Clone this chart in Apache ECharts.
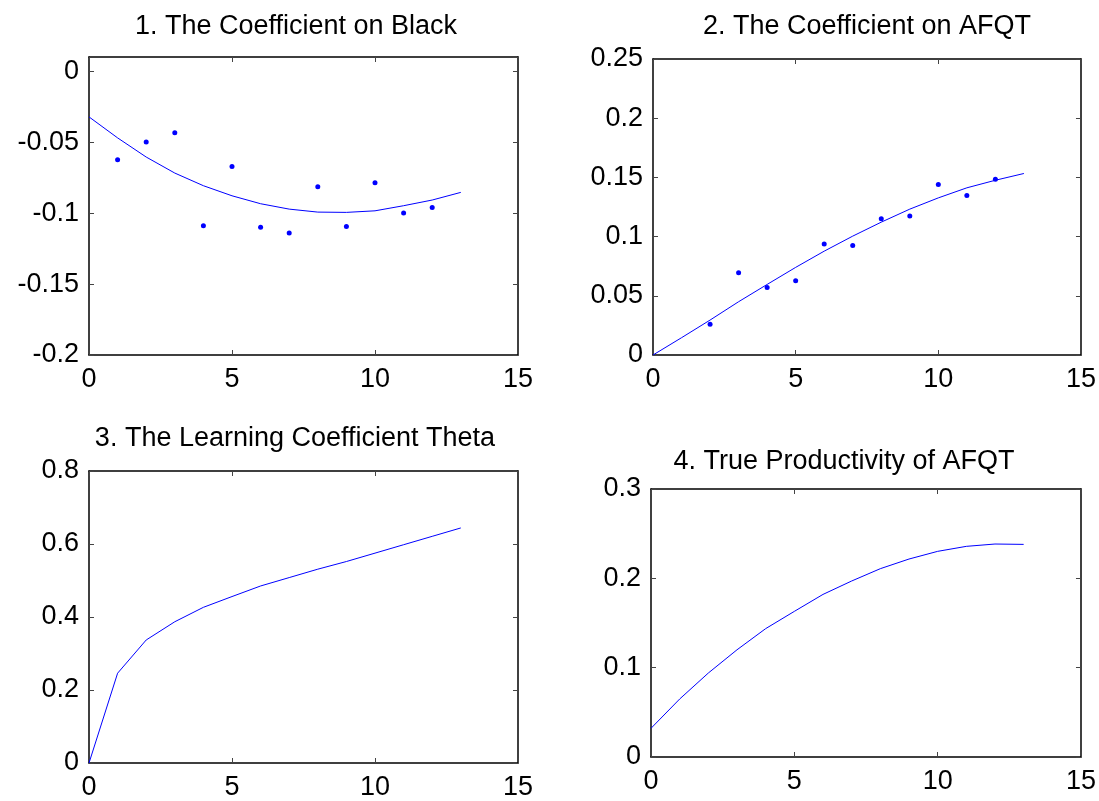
<!DOCTYPE html>
<html>
<head>
<meta charset="utf-8">
<script src="https://cdn.jsdelivr.net/npm/echarts@6/dist/echarts.min.js"></script>
<style>
html,body{margin:0;padding:0;background:#fff;}
#chart{width:1099px;height:801px;}
</style>
</head>
<body>
<div id="chart"></div>
<script>
// ---- Data ----
var xLine = [0,1,2,3,4,5,6,7,8,9,10,11,12,13];
var xDots1 = [1,2,3,4,5,6,7,8,9,10,11,12];
var xDots2 = [2,3,4,5,6,7,8,9,10,11,12];

var blackDots = [-0.0624,-0.0499,-0.0433,-0.109,-0.0671,-0.110,-0.114,-0.0814,-0.1094,-0.0786,-0.1000,-0.096];
var blackFit = [-0.0322,-0.047,-0.0605,-0.0718,-0.0807,-0.0878,-0.0934,-0.0972,-0.0993,-0.0995,-0.0984,-0.0948,-0.0908,-0.0854];

var afqtDots = [0.0259,0.0695,0.0571,0.0627,0.0937,0.0925,0.115,0.1173,0.144,0.1347,0.1485];
var afqtFit = [0,0.0146,0.0295,0.045,0.0596,0.074,0.0877,0.1004,0.1122,0.1232,0.1327,0.1412,0.1476,0.1533];

var theta = [0,0.246,0.337,0.387,0.4265,0.456,0.485,0.508,0.531,0.552,0.575,0.598,0.621,0.644];

var trueAfqt = [0.0321,0.0649,0.094,0.120,0.1437,0.163,0.182,0.197,0.2108,0.2216,0.2302,0.2358,0.2384,0.238];

var titles = ['1. The Coefficient on Black','2. The Coefficient on AFQT','3. The Learning Coefficient Theta','4. True Productivity of AFQT'];
var yRanges = [[-0.2,0.01,0.05],[0,0.25,0.05],[0,0.8,0.2],[0,0.3,0.1]];
var xRange = [0,15,5];

function pairs(xs, ys){ return xs.map(function(x,i){return [x, ys[i]];}); }

// ---- Layout ----
var grids = [
  {left:89, top:57, width:429, height:298},
  {left:653, top:59, width:430, height:296},
  {left:89, top:471, width:429, height:297},
  {left:651, top:489, width:431, height:268}
];
var titlePos = [[296,27],[867,27],[295,439],[844,462]];

var FONT = '"Liberation Sans", Arial, Helvetica, sans-serif';
var FS = 27;
var TFS = 27;
var lineStyleAxis = {color:'#000', width:1.5};
var tickStyle = {color:'#444', width:1};

var xAxes = [], yAxes = [], graphics = [];
grids.forEach(function(g, i){
  var yr = yRanges[i];
  xAxes.push({type:'value', gridIndex:i, position:'bottom', min:xRange[0], max:xRange[1], interval:xRange[2],
    axisLine:{show:true, onZero:false, lineStyle:lineStyleAxis},
    axisTick:{show:true, inside:true, length:5, lineStyle:tickStyle},
    axisLabel:{show:true, color:'#000', fontFamily:FONT, fontSize:FS, margin:11},
    splitLine:{show:false}});
  xAxes.push({type:'value', gridIndex:i, position:'top', min:xRange[0], max:xRange[1], interval:xRange[2],
    axisLine:{show:true, onZero:false, lineStyle:lineStyleAxis},
    axisTick:{show:true, inside:true, length:5, lineStyle:tickStyle},
    axisLabel:{show:false}, splitLine:{show:false}});
  yAxes.push({type:'value', gridIndex:i, position:'left', min:yr[0], max:yr[1], interval:yr[2],
    axisLine:{show:true, onZero:false, lineStyle:lineStyleAxis},
    axisTick:{show:true, inside:true, length:5, lineStyle:tickStyle},
    axisLabel:{show:true, color:'#000', fontFamily:FONT, fontSize:FS, margin:10, showMaxLabel: i===0 ? false : true},
    splitLine:{show:false}});
  yAxes.push({type:'value', gridIndex:i, position:'right', min:yr[0], max:yr[1], interval:yr[2],
    axisLine:{show:true, onZero:false, lineStyle:lineStyleAxis},
    axisTick:{show:true, inside:true, length:5, lineStyle:tickStyle},
    axisLabel:{show:false}, splitLine:{show:false}});
  graphics.push({type:'text', x:titlePos[i][0], y:titlePos[i][1], silent:true,
    style:{text:titles[i], fill:'#000', font:TFS+'px '+FONT, textAlign:'center', textVerticalAlign:'middle'}});
});

var BLUE = '#0000ff';
function lineSeries(gi, data){
  return {type:'line', xAxisIndex:gi*2, yAxisIndex:gi*2, data:data, showSymbol:false, symbol:'none',
    lineStyle:{color:BLUE, width:1}, animation:false, z:3};
}
function dotSeries(gi, data){
  return {type:'scatter', xAxisIndex:gi*2, yAxisIndex:gi*2, data:data, symbol:'circle', symbolSize:5,
    itemStyle:{color:BLUE, opacity:1}, animation:false, z:4};
}

var option = {
  backgroundColor:'#fff',
  animation:false,
  grid: grids.map(function(g){ return Object.assign({containLabel:false}, g); }),
  xAxis: xAxes,
  yAxis: yAxes,
  graphic: graphics,
  series: [
    lineSeries(0, pairs(xLine, blackFit)),
    dotSeries(0, pairs(xDots1, blackDots)),
    lineSeries(1, pairs(xLine, afqtFit)),
    dotSeries(1, pairs(xDots2, afqtDots)),
    lineSeries(2, pairs(xLine, theta)),
    lineSeries(3, pairs(xLine, trueAfqt))
  ]
};
var chart = echarts.init(document.getElementById('chart'), null, {renderer:'canvas'});
chart.setOption(option);
</script>
</body>
</html>
